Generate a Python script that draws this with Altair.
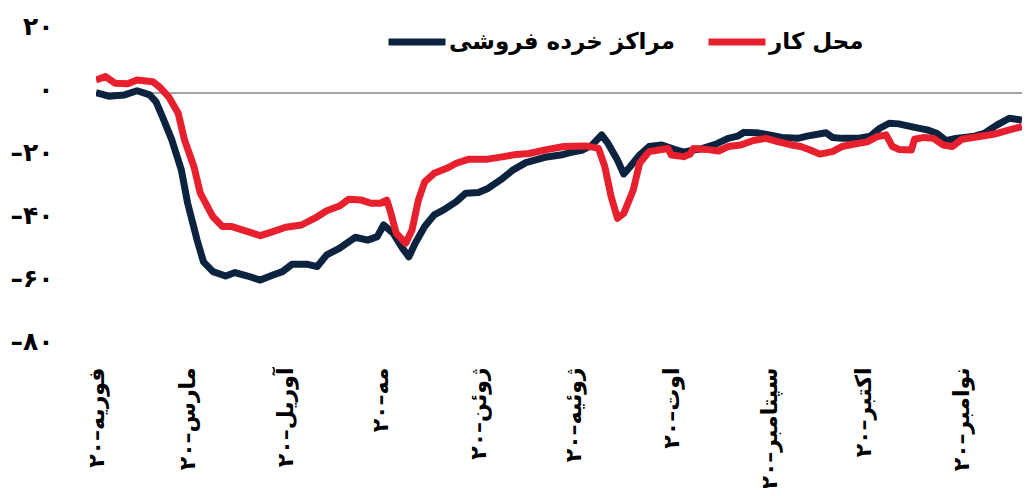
import json
import altair as alt
import pandas as pd

series_names = ["مراکز خرده فروشی", "محل کار"]
series_colors = ["#0c2340", "#e8202e"]

retail_dates = [
    "2020/02/15", "2020/02/19", "2020/02/24", "2020/02/28", "2020/03/03", "2020/03/05",
    "2020/03/07", "2020/03/10", "2020/03/13", "2020/03/15", "2020/03/18", "2020/03/20",
    "2020/03/23", "2020/03/27", "2020/03/30", "2020/04/03", "2020/04/07", "2020/04/11",
    "2020/04/14", "2020/04/17", "2020/04/22", "2020/04/25", "2020/04/28", "2020/05/02",
    "2020/05/07", "2020/05/11", "2020/05/14", "2020/05/16", "2020/05/19", "2020/05/22",
    "2020/05/24", "2020/05/26", "2020/05/29", "2020/06/01", "2020/06/04", "2020/06/08",
    "2020/06/11", "2020/06/15", "2020/06/18", "2020/06/22", "2020/06/26", "2020/06/30",
    "2020/07/06", "2020/07/11", "2020/07/14", "2020/07/18", "2020/07/21", "2020/07/24",
    "2020/07/26", "2020/07/29", "2020/07/31", "2020/08/02", "2020/08/05", "2020/08/08",
    "2020/08/12", "2020/08/16", "2020/08/19", "2020/08/22", "2020/08/25", "2020/08/29",
    "2020/09/02", "2020/09/05", "2020/09/07", "2020/09/11", "2020/09/15", "2020/09/19",
    "2020/09/24", "2020/09/27", "2020/10/03", "2020/10/05", "2020/10/08", "2020/10/13",
    "2020/10/17", "2020/10/20", "2020/10/23", "2020/10/26", "2020/10/31", "2020/11/04",
    "2020/11/07", "2020/11/10", "2020/11/13", "2020/11/19", "2020/11/22", "2020/11/26",
    "2020/11/30", "2020/12/04",
]
retail_values = [
    0.1, -1.0, -0.6, 0.7, -0.6, -2.8,
    -7.5, -14.9, -24.4, -35.0, -46.7, -53.6,
    -56.7, -58.1, -57.0, -58.1, -59.4, -57.8,
    -56.7, -54.4, -54.4, -55.1, -51.4, -49.3,
    -45.8, -46.7, -45.6, -41.9, -44.5, -49.3,
    -52.0, -47.7, -42.4, -38.7, -37.1, -34.5,
    -31.8, -31.6, -30.3, -27.6, -24.4, -22.1,
    -20.4, -19.7, -18.9, -18.1, -16.5, -13.3,
    -16.0, -21.3, -25.7, -23.4, -19.7, -17.0,
    -16.5, -17.9, -18.8, -18.1, -17.6, -16.3,
    -14.4, -13.7, -12.5, -12.6, -13.3, -14.1,
    -14.4, -13.7, -12.6, -14.1, -14.4, -14.4,
    -13.7, -11.2, -9.6, -9.8, -10.9, -11.7,
    -12.8, -15.1, -14.4, -13.7, -12.8, -10.2,
    -8.0, -8.6,
]

workplace_dates = [
    "2020/02/15", "2020/02/18", "2020/02/21", "2020/02/25", "2020/02/28", "2020/03/04",
    "2020/03/06", "2020/03/09", "2020/03/12", "2020/03/14", "2020/03/17", "2020/03/19",
    "2020/03/23", "2020/03/26", "2020/03/29", "2020/04/03", "2020/04/07", "2020/04/11",
    "2020/04/15", "2020/04/20", "2020/04/25", "2020/04/28", "2020/05/02", "2020/05/05",
    "2020/05/09", "2020/05/12", "2020/05/15", "2020/05/17", "2020/05/18", "2020/05/20",
    "2020/05/23", "2020/05/25", "2020/05/27", "2020/05/29", "2020/06/01", "2020/06/05",
    "2020/06/08", "2020/06/12", "2020/06/18", "2020/06/23", "2020/06/27", "2020/07/01",
    "2020/07/07", "2020/07/12", "2020/07/19", "2020/07/23", "2020/07/25", "2020/07/27",
    "2020/07/29", "2020/07/31", "2020/08/03", "2020/08/05", "2020/08/08", "2020/08/11",
    "2020/08/14", "2020/08/15", "2020/08/19", "2020/08/21", "2020/08/22", "2020/08/26",
    "2020/08/30", "2020/09/02", "2020/09/06", "2020/09/10", "2020/09/14", "2020/09/18",
    "2020/09/22", "2020/09/25", "2020/09/28", "2020/10/01", "2020/10/05", "2020/10/08",
    "2020/10/12", "2020/10/16", "2020/10/19", "2020/10/22", "2020/10/24", "2020/10/26",
    "2020/10/30", "2020/10/31", "2020/11/03", "2020/11/06", "2020/11/09", "2020/11/12",
    "2020/11/15", "2020/11/20", "2020/11/25", "2020/11/30", "2020/12/04",
]
workplace_values = [
    4.1, 5.2, 3.1, 2.9, 4.1, 3.6,
    2.0, -1.2, -6.4, -14.9, -23.4, -31.8,
    -39.3, -42.4, -42.4, -44.0, -45.3, -44.0,
    -42.6, -41.9, -39.3, -37.4, -35.9, -33.7,
    -34.0, -35.0, -35.0, -34.0, -37.1, -44.5,
    -47.7, -43.5, -34.0, -28.2, -25.5, -23.9,
    -22.3, -21.0, -21.0, -20.2, -19.5, -19.2,
    -17.9, -17.0, -16.8, -17.6, -23.4, -32.9,
    -39.8, -38.2, -30.8, -22.3, -18.6, -18.1,
    -17.6, -19.7, -20.2, -19.4, -17.6, -17.9,
    -18.4, -17.0, -16.5, -15.1, -14.4, -15.5,
    -16.5, -17.0, -18.1, -19.4, -18.6, -17.0,
    -16.2, -15.5, -13.9, -13.3, -17.0, -17.9,
    -18.1, -14.7, -14.1, -14.4, -16.5, -17.0,
    -14.7, -13.9, -13.1, -11.7, -10.7,
]

x_tick_dates = [
    "2020/02/15", "2020/03/15", "2020/04/15", "2020/05/15", "2020/06/15",
    "2020/07/15", "2020/08/15", "2020/09/15", "2020/10/15", "2020/11/15",
]
x_tick_labels = [
    "فوریه–۲۰", "مارس–۲۰", "آوریل–۲۰", "مه–۲۰", "ژوئن–۲۰",
    "ژوئیه–۲۰", "اوت–۲۰", "سپتامبر–۲۰", "اکتبر–۲۰", "نوامبر–۲۰",
]
x_domain = ["2020/02/15", "2020/12/04"]
y_tick_values = [20, 0, -20, -40, -60, -80]
y_tick_labels = ["۲۰", "۰", "–۲۰", "–۴۰", "–۶۰", "–۸۰"]
zero_line = [0]

FONT = "DejaVu Sans"


def to_dt(s):
    y, m, d = (int(p) for p in s.split("/"))
    return alt.DateTime(year=y, month=m, date=d)


df = pd.concat([
    pd.DataFrame({"date": retail_dates, "value": retail_values, "series": series_names[0]}),
    pd.DataFrame({"date": workplace_dates, "value": workplace_values, "series": series_names[1]}),
], ignore_index=True)

x_label_expr = f"{json.dumps(x_tick_labels, ensure_ascii=False)}[month(datum.value) - 1]"
y_label_expr = (
    f"{json.dumps(y_tick_labels, ensure_ascii=False)}"
    f"[indexof({json.dumps(y_tick_values)}, datum.value)]"
)

y_scale = alt.Scale(domain=[min(y_tick_values), max(y_tick_values)], nice=False, zero=False)
y_axis = alt.Axis(
    title=None,
    values=y_tick_values,
    labelExpr=y_label_expr,
    labelFont=FONT,
    labelFontSize=25,
    labelFontWeight="bold",
    labelColor="#000000",
    labelPadding=43,
    labelOffset=-4,
    domain=False,
    ticks=False,
    grid=False,
)

rule = alt.Chart(pd.DataFrame({"value": zero_line})).mark_rule(
    color="#858585", strokeWidth=1.6
).encode(y=alt.Y("value:Q", scale=y_scale, axis=y_axis))

lines = alt.Chart(df).mark_line(strokeWidth=7, strokeJoin="round", clip=True).encode(
    x=alt.X(
        "date:T",
        scale=alt.Scale(domain=[to_dt(d) for d in x_domain]),
        axis=alt.Axis(
            title=None,
            values=[to_dt(d) for d in x_tick_dates],
            labelExpr=x_label_expr,
            labelAngle=270,
            labelAlign="right",
            labelBaseline="middle",
            labelFont=FONT,
            labelFontSize=22,
            labelFontWeight="bold",
            labelColor="#000000",
            labelPadding=22,
            labelLimit=400,
            labelOverlap=False,
            labelFlush=False,
            domain=False,
            ticks=False,
            grid=False,
        ),
    ),
    y=alt.Y("value:Q", scale=y_scale, axis=y_axis),
    color=alt.Color(
        "series:N",
        scale=alt.Scale(domain=series_names, range=series_colors),
        legend=alt.Legend(
            title=None,
            orient="none",
            legendX=289,
            legendY=-20,
            direction="horizontal",
            symbolType="stroke",
            symbolSize=3249,
            symbolStrokeWidth=7,
            labelFont=FONT,
            labelFontSize=23,
            labelFontWeight="bold",
            labelColor="#000000",
            labelOffset=0,
            columnPadding=19,
            labelLimit=400,
            padding=0,
        ),
    ),
    order=alt.Order("series_order:Q"),
).transform_calculate(
    series_order=f"indexof({json.dumps(series_names, ensure_ascii=False)}, datum.series)"
)

chart = alt.layer(rule, lines).properties(
    width=926,
    height=315,
    background="white",
    autosize=alt.AutoSizeParams(type="none"),
    padding={"left": 88, "top": 22, "right": 0, "bottom": 143},
).configure_view(stroke=None)

chart.save("out.html", embed_options={"renderer": "svg", "actions": False})
